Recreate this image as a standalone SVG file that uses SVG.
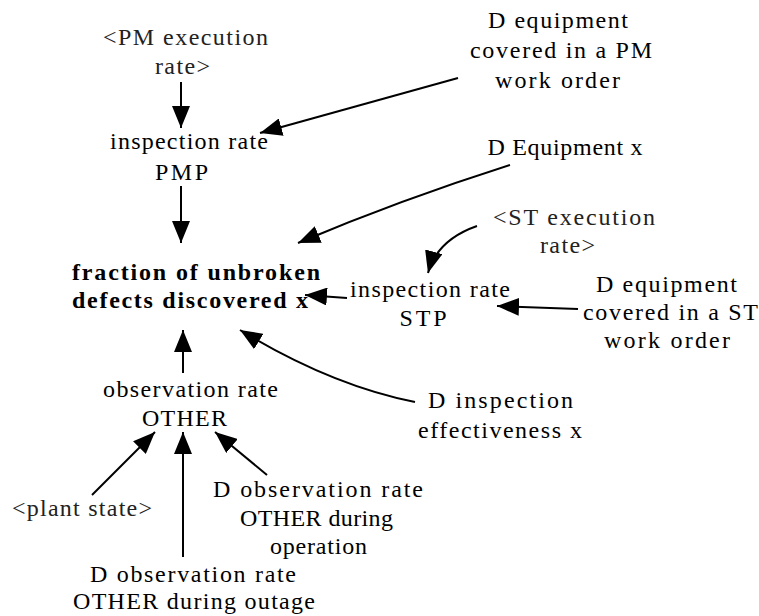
<svg xmlns="http://www.w3.org/2000/svg" width="759" height="616" viewBox="0 0 759 616">
  <style>
    text { font-family: "Liberation Serif", "Times New Roman", serif; font-size: 24px; fill: #000; text-anchor: middle; }
    .main { font-weight: bold; }
    .shadow { fill: #222; }
    .link { fill: none; stroke: #000; stroke-width: 2; marker-end: url(#head); }
  </style>
  <defs>
    <marker id="head" markerUnits="userSpaceOnUse" markerWidth="22" markerHeight="18" refX="22" refY="9" orient="auto" viewBox="0 0 22 18">
      <path d="M0,0 L22,9 L0,18 Z" fill="#000"/>
    </marker>
  </defs>
  <rect width="759" height="616" fill="#fff"/>

  <!-- causal links -->
  <g id="connectors">
    <path class="link" d="M181,82 L181,128"/>
    <path class="link" d="M458,78 L260,133"/>
    <path class="link" d="M181,186 L181,243"/>
    <path class="link" d="M510,165 Q400,200 298,243"/>
    <path class="link" d="M477,226 Q437,240 428,273"/>
    <path class="link" d="M347,298 L305,295"/>
    <path class="link" d="M578,309 L497,306"/>
    <path class="link" d="M415,402 Q330,385 240,330"/>
    <path class="link" d="M183,373 L183,330"/>
    <path class="link" d="M92,495 L155,432"/>
    <path class="link" d="M183,557 L183,432"/>
    <path class="link" d="M267,475 L215,432"/>
  </g>

  <!-- variables -->
  <g id="pm-execution-rate">
    <text class="shadow" x="185.5" y="45" textLength="165" lengthAdjust="spacing">&lt;PM execution</text>
    <text class="shadow" x="182.5" y="74" textLength="55" lengthAdjust="spacing">rate&gt;</text>
  </g>
  <g id="inspection-rate-pmp">
    <text x="189" y="149" textLength="158" lengthAdjust="spacing">inspection rate</text>
    <text x="181.5" y="180" textLength="53" lengthAdjust="spacing">PMP</text>
  </g>
  <g id="d-equipment-pm">
    <text x="558" y="28" textLength="140" lengthAdjust="spacing">D equipment</text>
    <text x="561" y="58" textLength="182" lengthAdjust="spacing">covered in a PM</text>
    <text x="557.5" y="88" textLength="125" lengthAdjust="spacing">work order</text>
  </g>
  <g id="d-equipment-x">
    <text x="565" y="155" textLength="155" lengthAdjust="spacing">D Equipment x</text>
  </g>
  <g id="fraction-discovered">
    <text class="main" x="196" y="280" textLength="248" lengthAdjust="spacing">fraction of unbroken</text>
    <text class="main" x="190" y="308" textLength="236" lengthAdjust="spacing">defects discovered x</text>
  </g>
  <g id="inspection-rate-stp">
    <text x="430" y="297" textLength="160" lengthAdjust="spacing">inspection rate</text>
    <text x="423" y="326" textLength="47" lengthAdjust="spacing">STP</text>
  </g>
  <g id="st-execution-rate">
    <text class="shadow" x="574" y="225" textLength="162" lengthAdjust="spacing">&lt;ST execution</text>
    <text class="shadow" x="567.5" y="253" textLength="55" lengthAdjust="spacing">rate&gt;</text>
  </g>
  <g id="d-equipment-st">
    <text x="666.5" y="292" textLength="141" lengthAdjust="spacing">D equipment</text>
    <text x="670.5" y="320" textLength="175" lengthAdjust="spacing">covered in a ST</text>
    <text x="667" y="348" textLength="126" lengthAdjust="spacing">work order</text>
  </g>
  <g id="d-inspection-effectiveness">
    <text x="500.5" y="408" textLength="145" lengthAdjust="spacing">D inspection</text>
    <text x="500" y="438" textLength="164" lengthAdjust="spacing">effectiveness x</text>
  </g>
  <g id="observation-rate-other">
    <text x="190.5" y="397" textLength="175" lengthAdjust="spacing">observation rate</text>
    <text x="184.5" y="426" textLength="85" lengthAdjust="spacing">OTHER</text>
  </g>
  <g id="plant-state">
    <text class="shadow" x="82" y="516" textLength="140" lengthAdjust="spacing">&lt;plant state&gt;</text>
  </g>
  <g id="d-observation-operation">
    <text x="318" y="497" textLength="210" lengthAdjust="spacing">D observation rate</text>
    <text x="316.5" y="526" textLength="153" lengthAdjust="spacing">OTHER during</text>
    <text x="318.5" y="554" textLength="97" lengthAdjust="spacing">operation</text>
  </g>
  <g id="d-observation-outage">
    <text x="193" y="582" textLength="206" lengthAdjust="spacing">D observation rate</text>
    <text x="194" y="609" textLength="242" lengthAdjust="spacing">OTHER during outage</text>
  </g>
</svg>
